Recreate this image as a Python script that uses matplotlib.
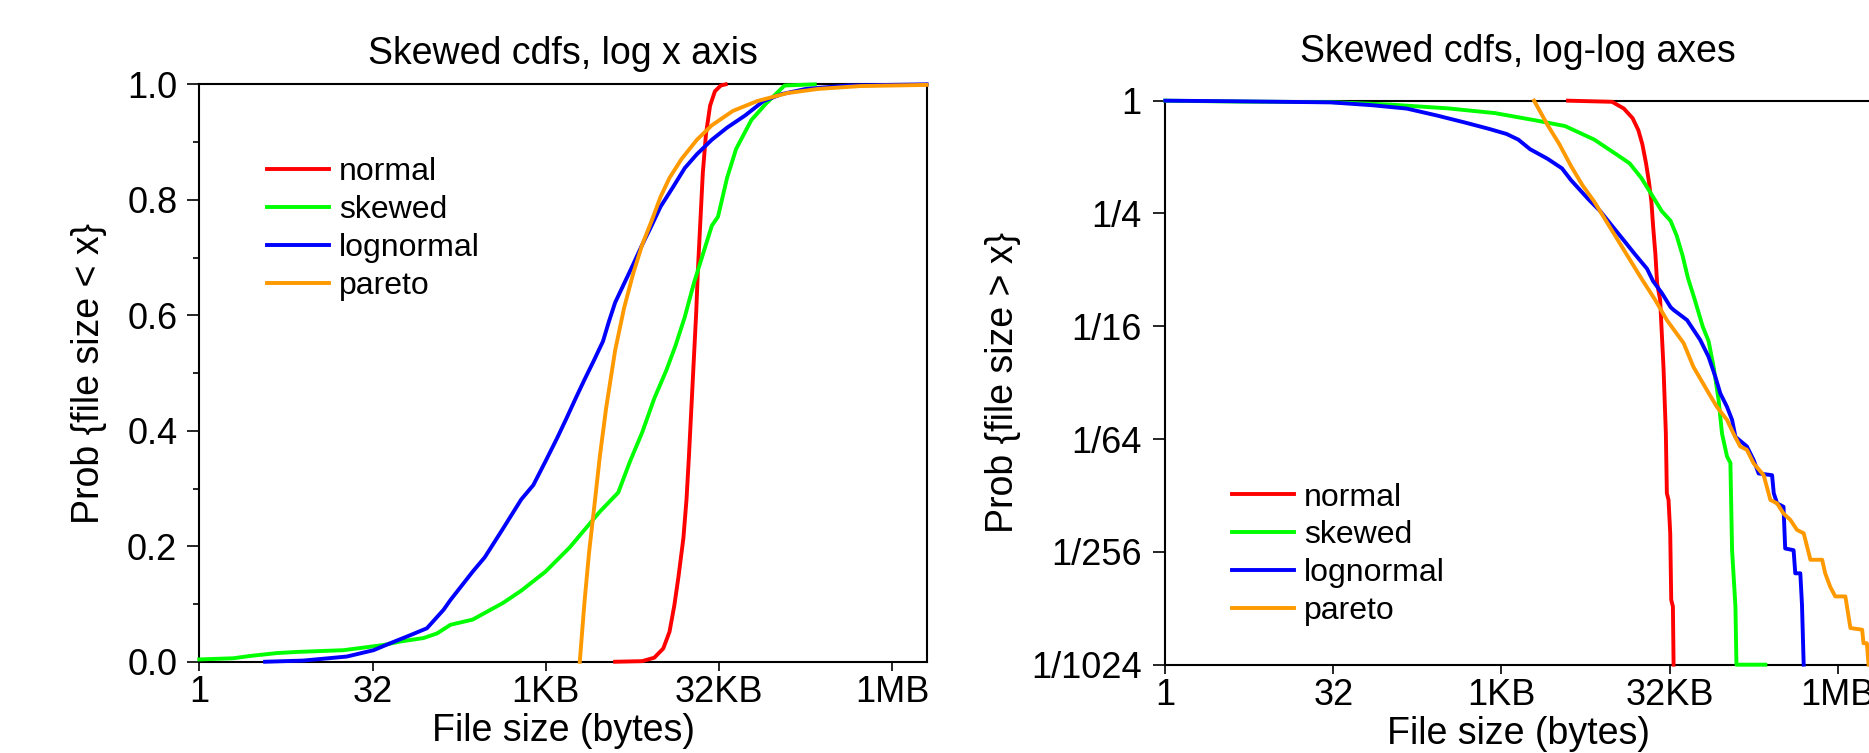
import numpy as np
import matplotlib
matplotlib.use('Agg')
import matplotlib.pyplot as plt
from matplotlib.ticker import FixedLocator, NullLocator, MultipleLocator, FormatStrFormatter

plt.rcParams['font.family'] = ['Liberation Sans', 'DejaVu Sans']

# ---- data (file sizes kept as log2 of bytes) ----
series_names = ['normal', 'skewed', 'lognormal', 'pareto']
series_colors = ['#ff0000', '#00ff00', '#0000ff', '#ff9900']

# left panel: cdf, Prob{file size < x}
normal_cdf_log2x = [12.00, 12.78, 13.13, 13.39, 13.57, 13.71, 13.83, 13.97, 14.06, 14.13, 14.20,
                    14.27, 14.34, 14.39, 14.46, 14.53, 14.62, 14.74, 14.88, 15.05, 15.19]
normal_cdf = [0, 0.001, 0.007, 0.023, 0.052, 0.098, 0.148, 0.214, 0.281, 0.356, 0.439,
              0.522, 0.605, 0.680, 0.763, 0.846, 0.913, 0.963, 0.988, 0.998, 1.0]

skewed_cdf_log2x = [0, 0.98, 1.47, 2.24, 2.82, 4.16, 4.55, 5.32, 5.80, 6.47, 6.86, 7.25, 7.89,
                    8.77, 9.29, 9.99, 10.69, 11.04, 11.56, 12.09, 12.43, 12.78, 13.13, 13.48,
                    13.74, 14.01, 14.27, 14.53, 14.79, 14.97, 15.23, 15.49, 15.93, 16.36,
                    16.89, 17.76]
skewed_cdf = [0.004, 0.006, 0.010, 0.015, 0.017, 0.020, 0.023, 0.029, 0.035, 0.041, 0.049,
              0.064, 0.073, 0.102, 0.123, 0.156, 0.198, 0.223, 0.260, 0.293, 0.347, 0.397,
              0.456, 0.505, 0.547, 0.597, 0.655, 0.705, 0.755, 0.771, 0.838, 0.888, 0.938,
              0.967, 0.998, 1.0]

lognormal_cdf_log2x = [1.90, 3.00, 4.26, 5.03, 5.51, 6.09, 6.57, 7.05, 7.25, 7.89, 8.24, 8.77,
                       9.29, 9.64, 9.99, 10.34, 10.60, 10.86, 11.12, 11.39, 11.65, 11.82, 12.00,
                       12.26, 12.52, 12.78, 13.05, 13.31, 13.66, 14.01, 14.36, 14.79, 15.23,
                       15.75, 16.28, 16.80, 17.50, 18.72, 20.99]
lognormal_cdf = [0, 0.002, 0.009, 0.020, 0.032, 0.046, 0.058, 0.090, 0.107, 0.156, 0.181, 0.231,
                 0.281, 0.306, 0.347, 0.389, 0.422, 0.456, 0.489, 0.522, 0.555, 0.589, 0.622,
                 0.655, 0.688, 0.722, 0.755, 0.788, 0.821, 0.855, 0.879, 0.904, 0.925, 0.946,
                 0.971, 0.983, 0.992, 0.998, 1.0]

pareto_cdf_log2x = [10.98, 11.12, 11.25, 11.39, 11.56, 11.74, 12.00, 12.26, 12.52, 12.78, 13.05,
                    13.31, 13.57, 13.92, 14.36, 14.79, 15.40, 16.10, 16.98, 17.85, 19.07, 20.99]
pareto_cdf = [0, 0.106, 0.190, 0.264, 0.356, 0.439, 0.539, 0.613, 0.672, 0.722, 0.763,
              0.805, 0.838, 0.871, 0.904, 0.929, 0.954, 0.971, 0.985, 0.992, 0.997, 0.999]

# right panel: ccdf, Prob{file size > x} (kept as log2 of probability)
normal_ccdf_log2x = [11.98, 13.29, 13.64, 13.90, 14.07, 14.19, 14.30, 14.39, 14.46, 14.51, 14.58,
                     14.63, 14.72, 14.82, 14.89, 14.92, 14.97, 15.02, 15.05, 15.10, 15.12]
normal_ccdf_log2p = [0, -0.02, -0.14, -0.31, -0.52, -0.77, -1.11, -1.45, -1.79, -2.22, -2.73,
                     -3.24, -3.53, -4.73, -5.90, -6.96, -7.08, -7.67, -8.85, -8.97, -10]

skewed_ccdf_log2x = [0, 2.30, 4.92, 6.66, 8.40, 9.80, 11.02, 11.89, 12.76, 13.29, 13.81, 14.16,
                     14.42, 14.77, 15.03, 15.21, 15.38, 15.55, 15.73, 15.99, 16.16, 16.31, 16.46,
                     16.56, 16.71, 16.81, 16.86, 16.96, 16.99, 17.85]
skewed_ccdf_log2p = [0, -0.017, -0.026, -0.068, -0.136, -0.22, -0.35, -0.45, -0.69, -0.90, -1.11,
                     -1.37, -1.62, -1.96, -2.13, -2.39, -2.73, -3.15, -3.49, -4.01, -4.26, -4.72,
                     -5.31, -5.90, -6.31, -6.42, -7.97, -8.97, -10, -10]

lognormal_ccdf_log2x = [0, 1.95, 4.92, 6.14, 7.18, 8.06, 8.93, 9.63, 10.15, 10.50, 10.85, 11.37,
                        11.80, 12.07, 12.33, 12.59, 12.94, 13.29, 13.63, 13.98, 14.33, 14.51,
                        14.77, 15.03, 15.12, 15.52, 15.91, 16.16, 16.36, 16.51, 16.71, 16.86,
                        16.96, 17.30, 17.50, 17.65, 18.05, 18.10, 18.20, 18.39, 18.44, 18.69,
                        18.74, 18.89, 18.94, 18.99]
lognormal_ccdf_log2p = [0, -0.01, -0.03, -0.08, -0.14, -0.26, -0.39, -0.50, -0.59, -0.69, -0.86,
                        -1.03, -1.20, -1.41, -1.58, -1.75, -1.96, -2.22, -2.47, -2.73, -2.98,
                        -3.20, -3.41, -3.66, -3.71, -3.89, -4.24, -4.54, -4.89, -5.19, -5.43,
                        -5.66, -5.96, -6.13, -6.37, -6.61, -6.64, -6.96, -7.14, -7.20, -7.94,
                        -7.97, -8.38, -8.38, -8.94, -10]

pareto_ccdf_log2x = [10.97, 11.37, 11.72, 12.07, 12.41, 12.76, 13.11, 13.46, 13.81, 14.16, 14.57,
                     14.92, 15.42, 15.71, 16.11, 16.41, 16.71, 16.90, 17.10, 17.30, 17.50, 17.80,
                     18.00, 18.20, 18.39, 18.59, 18.79, 18.99, 19.14, 19.19, 19.54, 19.63, 19.78,
                     19.93, 20.23, 20.38, 20.73, 20.77, 20.87, 20.92]
pareto_ccdf_log2p = [0, -0.43, -0.77, -1.16, -1.50, -1.79, -2.13, -2.47, -2.81, -3.15, -3.53,
                     -3.89, -4.30, -4.72, -5.13, -5.43, -5.66, -5.90, -6.13, -6.19, -6.43, -6.64,
                     -7.08, -7.14, -7.32, -7.43, -7.61, -7.67, -8.02, -8.14, -8.14, -8.38, -8.62,
                     -8.79, -8.79, -9.35, -9.38, -9.62, -9.62, -10]

size_ticks = [1, 32, 1024, 32768, 1048576]
size_tick_labels = ['1', '32', '1KB', '32KB', '1MB']
ccdf_ticks = [1, 1 / 4, 1 / 16, 1 / 64, 1 / 256, 1 / 1024]
ccdf_tick_labels = ['1', '1/4', '1/16', '1/64', '1/256', '1/1024']

cdf_series = [(normal_cdf_log2x, normal_cdf), (skewed_cdf_log2x, skewed_cdf),
              (lognormal_cdf_log2x, lognormal_cdf), (pareto_cdf_log2x, pareto_cdf)]
ccdf_series = [(normal_ccdf_log2x, normal_ccdf_log2p), (skewed_ccdf_log2x, skewed_ccdf_log2p),
               (lognormal_ccdf_log2x, lognormal_ccdf_log2p), (pareto_ccdf_log2x, pareto_ccdf_log2p)]

TICK_FS = 26
LABEL_FS = 27
TITLE_FS = 27
LEGEND_FS = 23
LW = 2.8


def style_axes(ax, ypad):
    for s in ax.spines.values():
        s.set_linewidth(1.5)
    ax.set_xscale('log', base=2)
    ax.set_xlim(1, 2 ** 21)
    ax.xaxis.set_major_locator(FixedLocator(size_ticks))
    ax.set_xticklabels(size_tick_labels)
    ax.xaxis.set_minor_locator(NullLocator())
    ax.tick_params(axis='x', which='major', direction='out', length=6.5, width=1.2,
                   pad=3, labelsize=TICK_FS)
    ax.tick_params(axis='y', which='major', direction='out', length=9, width=1.2,
                   pad=ypad, labelsize=TICK_FS)
    ax.tick_params(axis='y', which='minor', direction='out', length=4.3, width=1.2)
    ax.set_xlabel('File size (bytes)', fontsize=LABEL_FS, labelpad=2)


def add_legend(ax, anchor):
    ax.legend(loc='upper left', bbox_to_anchor=anchor, frameon=False,
              fontsize=LEGEND_FS, handlelength=1.95, handletextpad=0.3, labelspacing=0.25,
              borderpad=0, borderaxespad=0)


fig = plt.figure(figsize=(18.69, 7.53), dpi=100)

# left panel
ax1 = fig.add_axes([0.1066, 0.1212, 0.3894, 0.7668])
for (lx, y), name, c in zip(cdf_series, series_names, series_colors):
    ax1.plot(2.0 ** np.array(lx), y, color=c, lw=LW, label=name, zorder=3, clip_on=False)
style_axes(ax1, 6.8)
ax1.set_ylim(0, 1)
ax1.yaxis.set_major_locator(MultipleLocator(0.2))
ax1.yaxis.set_minor_locator(MultipleLocator(0.1))
ax1.yaxis.set_major_formatter(FormatStrFormatter('%.1f'))
ax1.set_ylabel('Prob {file size < x}', fontsize=LABEL_FS)
ax1.yaxis.set_label_coords(-0.127, 0.5)
ax1.set_title('Skewed cdfs, log x axis', fontsize=TITLE_FS, pad=15)
add_legend(ax1, (0.093, 0.874))

# right panel, runs past the figure edge like the original
ax2 = fig.add_axes([0.6235, 0.1173, 0.3777, 0.749])
for (lx, lp), name, c in zip(ccdf_series, series_names, series_colors):
    ax2.plot(2.0 ** np.array(lx), 2.0 ** np.array(lp), color=c, lw=LW, label=name,
             zorder=3, clip_on=False)
style_axes(ax2, 8)
ax2.set_yscale('log', base=2)
ax2.set_ylim(2 ** -10, 1)
ax2.yaxis.set_major_locator(FixedLocator(ccdf_ticks))
ax2.set_yticklabels(ccdf_tick_labels)
ax2.yaxis.set_minor_locator(NullLocator())
ax2.set_ylabel('Prob {file size > x}', fontsize=LABEL_FS)
ax2.yaxis.set_label_coords(-0.204, 0.5)
ax2.set_title('Skewed cdfs, log-log axes', fontsize=TITLE_FS, pad=28)
add_legend(ax2, (0.0945, 0.323))

fig.savefig('out.png', dpi=100)
